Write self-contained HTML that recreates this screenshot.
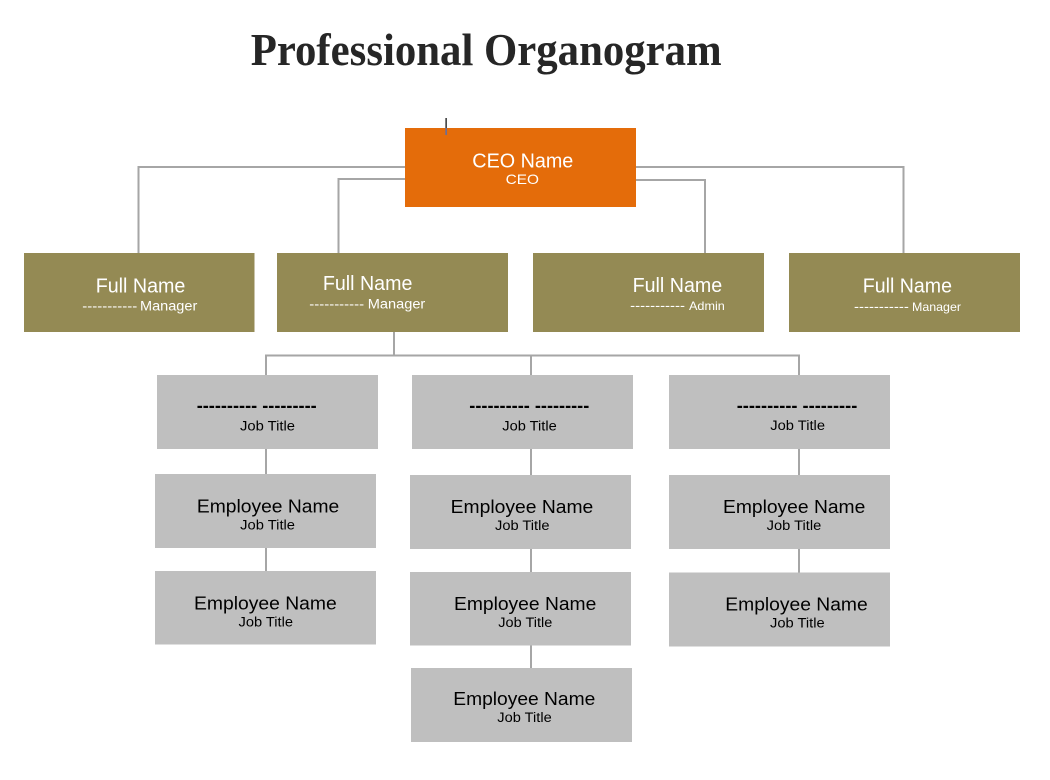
<!DOCTYPE html>
<html>
<head>
<meta charset="utf-8">
<style>
  html,body{margin:0;padding:0;background:#ffffff;}
  body{width:1050px;height:780px;overflow:hidden;}
  svg{display:block;}
  .t{font-family:"Liberation Serif",serif;font-weight:bold;}
  .s{font-family:"Liberation Sans",Arial,sans-serif;}
</style>
</head>
<body>
<svg width="1050" height="780" viewBox="0 0 1050 780" xmlns="http://www.w3.org/2000/svg">
  <rect x="0" y="0" width="1050" height="780" fill="#ffffff"/>

  <!-- Title -->
  <text class="t" x="250.7" y="65" font-size="46" fill="#262626" textLength="471" lengthAdjust="spacingAndGlyphs">Professional Organogram</text>

  <!-- Connectors -->
  <g fill="#a6a6a6" shape-rendering="crispEdges">
    <rect x="137.5" y="166" width="268" height="2"/>
    <rect x="137.5" y="166" width="2" height="87"/>
    <rect x="337.5" y="178" width="68" height="2"/>
    <rect x="337.5" y="178" width="2" height="75"/>
    <rect x="635" y="166" width="269.5" height="2"/>
    <rect x="902.5" y="166" width="2" height="87"/>
    <rect x="635" y="179" width="71" height="2"/>
    <rect x="704" y="179" width="2" height="74"/>

    <rect x="393" y="331" width="2" height="25"/>
    <rect x="265" y="354.5" width="535" height="2"/>
    <rect x="265" y="354.5" width="2" height="21"/>
    <rect x="530" y="354.5" width="2" height="21"/>
    <rect x="798" y="354.5" width="2" height="21"/>

    <rect x="265" y="448" width="2" height="27"/>
    <rect x="265" y="547" width="2" height="25"/>

    <rect x="530" y="448" width="2" height="28"/>
    <rect x="530" y="548" width="2" height="25"/>
    <rect x="530" y="645" width="2" height="24"/>

    <rect x="798" y="448" width="2" height="28"/>
    <rect x="798" y="548" width="2" height="25"/>
  </g>

  <!-- CEO -->
  <rect x="405" y="128" width="231" height="79" fill="#e46c0a"/>
  <text class="s" x="472.3" y="167.3" font-size="20" fill="#ffffff" textLength="101" lengthAdjust="spacingAndGlyphs">CEO Name</text>
  <text class="s" x="505.7" y="184" font-size="14" fill="#ffffff" textLength="33.3" lengthAdjust="spacingAndGlyphs">CEO</text>
  <!-- cursor -->
  <rect x="445.5" y="118" width="1.2" height="10" fill="#000000"/>
  <rect x="445.5" y="128" width="1.2" height="7" fill="#3a6fd0"/>

  <!-- Managers -->
  <g fill="#948a54" shape-rendering="crispEdges">
    <rect x="24" y="253" width="230.5" height="79"/>
    <rect x="277" y="253" width="231" height="79"/>
    <rect x="533" y="253" width="231" height="79"/>
    <rect x="789" y="253" width="231" height="79"/>
  </g>
  <g class="s" fill="#ffffff">
    <text x="95.7" y="292.3" font-size="20" textLength="89.7" lengthAdjust="spacingAndGlyphs">Full Name</text>
    <text x="82.3" y="310.7" font-size="13.5" textLength="55" lengthAdjust="spacingAndGlyphs">-----------</text>
    <text x="140" y="310.7" font-size="13.5" textLength="57.3" lengthAdjust="spacingAndGlyphs">Manager</text>

    <text x="322.9" y="290" font-size="20" textLength="89.5" lengthAdjust="spacingAndGlyphs">Full Name</text>
    <text x="309.3" y="308.3" font-size="13.5" textLength="54.8" lengthAdjust="spacingAndGlyphs">-----------</text>
    <text x="367.8" y="308.3" font-size="13.5" textLength="57.5" lengthAdjust="spacingAndGlyphs">Manager</text>

    <text x="632.6" y="292" font-size="20" textLength="89.6" lengthAdjust="spacingAndGlyphs">Full Name</text>
    <text x="630.2" y="310" font-size="13.5" textLength="54.8" lengthAdjust="spacingAndGlyphs">-----------</text>
    <text x="689" y="310" font-size="12" textLength="35.8" lengthAdjust="spacingAndGlyphs">Admin</text>

    <text x="862.8" y="292.7" font-size="20" textLength="89.2" lengthAdjust="spacingAndGlyphs">Full Name</text>
    <text x="854" y="311" font-size="13.5" textLength="54.8" lengthAdjust="spacingAndGlyphs">-----------</text>
    <text x="912" y="311" font-size="12" textLength="49" lengthAdjust="spacingAndGlyphs">Manager</text>
  </g>

  <!-- Gray boxes -->
  <g fill="#bfbfbf" shape-rendering="crispEdges">
    <rect x="157" y="375" width="221" height="74"/>
    <rect x="412" y="375" width="221" height="74"/>
    <rect x="669" y="375" width="221" height="74"/>

    <rect x="155" y="474" width="221" height="74"/>
    <rect x="155" y="571" width="221" height="73.5"/>

    <rect x="410" y="475" width="221" height="74"/>
    <rect x="410" y="572" width="221" height="73.5"/>
    <rect x="411" y="668" width="221" height="74"/>

    <rect x="669" y="475" width="221" height="74"/>
    <rect x="669" y="572.7" width="221" height="74"/>
  </g>

  <g class="s" fill="#000000">
    <!-- job title boxes -->
    <text x="196.7" y="411.5" font-size="18.5" font-weight="bold" textLength="120" lengthAdjust="spacingAndGlyphs">---------- ---------</text>
    <text x="240" y="430.7" font-size="13.5" textLength="55" lengthAdjust="spacingAndGlyphs">Job Title</text>

    <text x="469.3" y="411.5" font-size="18.5" font-weight="bold" textLength="120" lengthAdjust="spacingAndGlyphs">---------- ---------</text>
    <text x="502.3" y="430.7" font-size="13.5" textLength="54.4" lengthAdjust="spacingAndGlyphs">Job Title</text>

    <text x="736.7" y="411.5" font-size="18.5" font-weight="bold" textLength="120.6" lengthAdjust="spacingAndGlyphs">---------- ---------</text>
    <text x="770.3" y="430" font-size="13.5" textLength="54.7" lengthAdjust="spacingAndGlyphs">Job Title</text>

    <!-- col1 employees -->
    <text x="196.9" y="512.4" font-size="18.67" textLength="142.3" lengthAdjust="spacingAndGlyphs">Employee Name</text>
    <text x="240.2" y="529.4" font-size="13.5" textLength="54.8" lengthAdjust="spacingAndGlyphs">Job Title</text>

    <text x="194" y="609.3" font-size="18.67" textLength="142.7" lengthAdjust="spacingAndGlyphs">Employee Name</text>
    <text x="238.5" y="626.5" font-size="13.5" textLength="54.5" lengthAdjust="spacingAndGlyphs">Job Title</text>

    <!-- col2 employees -->
    <text x="450.7" y="513" font-size="18.67" textLength="142.6" lengthAdjust="spacingAndGlyphs">Employee Name</text>
    <text x="495" y="530" font-size="13.5" textLength="54.5" lengthAdjust="spacingAndGlyphs">Job Title</text>

    <text x="454" y="610" font-size="18.67" textLength="142.3" lengthAdjust="spacingAndGlyphs">Employee Name</text>
    <text x="498.3" y="627.2" font-size="13.5" textLength="54" lengthAdjust="spacingAndGlyphs">Job Title</text>

    <text x="453.3" y="705" font-size="18.67" textLength="142" lengthAdjust="spacingAndGlyphs">Employee Name</text>
    <text x="497.3" y="722.2" font-size="13.5" textLength="54.4" lengthAdjust="spacingAndGlyphs">Job Title</text>

    <!-- col3 employees -->
    <text x="723" y="513" font-size="18.67" textLength="142.3" lengthAdjust="spacingAndGlyphs">Employee Name</text>
    <text x="766.7" y="530" font-size="13.5" textLength="54.6" lengthAdjust="spacingAndGlyphs">Job Title</text>

    <text x="725.3" y="610.5" font-size="18.67" textLength="142.4" lengthAdjust="spacingAndGlyphs">Employee Name</text>
    <text x="770" y="627.5" font-size="13.5" textLength="54.7" lengthAdjust="spacingAndGlyphs">Job Title</text>
  </g>
</svg>
</body>
</html>
